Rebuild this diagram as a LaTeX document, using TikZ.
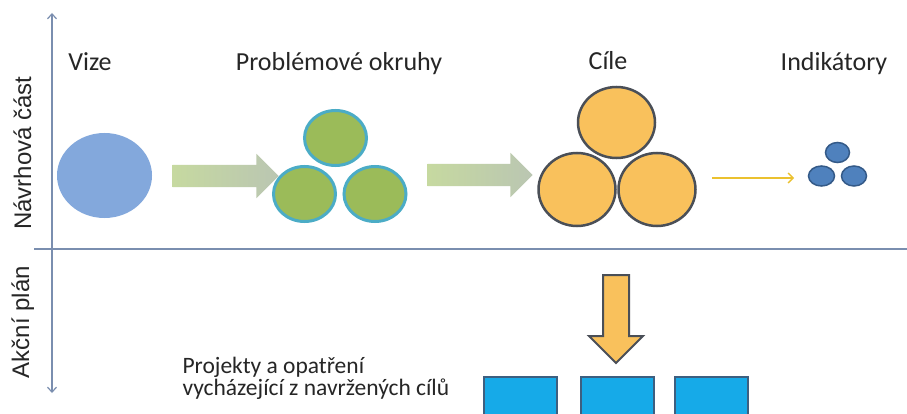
\documentclass[tikz,border=0pt]{standalone}
\usepackage{fontspec}
\setmainfont{Carlito}
\newfontfamily\axisfont{Liberation Sans}
\usepackage{tikz}
\usetikzlibrary{positioning, arrows.meta, shapes.geometric, shapes.arrows}
\definecolor{axis}{HTML}{7A8EAF}
\definecolor{txt}{HTML}{262626}
\definecolor{visionbg}{HTML}{83A8DC}
\definecolor{probbg}{HTML}{9BBB59}
\definecolor{probline}{HTML}{4BACC6}
\definecolor{goalbg}{HTML}{F9C15C}
\definecolor{goalline}{HTML}{4A4F57}
\definecolor{indbg}{HTML}{4F81BD}
\definecolor{indline}{HTML}{345A88}
\definecolor{flowbg}{HTML}{C6D9A0}
\definecolor{flowtip}{HTML}{BAC6B2}
\definecolor{thinarrow}{HTML}{EBC12F}
\definecolor{projbg}{HTML}{16AAE8}
\definecolor{projline}{HTML}{3D5F80}
\tikzset{
  top label/.style={
    anchor=base,
    text=txt,
    font=\fontsize{26}{30}\selectfont
  },
  side label/.style={
    anchor=base,
    rotate=90,
    text=txt,
    font=\axisfont\fontsize{24}{28}\selectfont
  },
  blob/.style={
    ellipse,
    inner sep=0pt
  },
  prob circle/.style={
    blob, draw=probline, line width=3pt, fill=probbg,
    minimum width=62pt, minimum height=55pt
  },
  goal circle/.style={
    blob, draw=goalline, line width=2.5pt, fill=goalbg,
    minimum width=77pt, minimum height=71pt
  },
  ind circle/.style={
    blob, draw=indline, line width=1.5pt, fill=indbg,
    minimum width=25pt, minimum height=20pt
  },
  flow arrow/.style={
    single arrow,
    left color=flowbg, middle color=flowbg, right color=flowtip,
    inner xsep=0pt, inner ysep=11pt,
    single arrow head extend=11pt,
    single arrow head indent=0pt,
    single arrow tip angle=90,
    minimum height=106pt
  },
  axis line/.style={
    {Straight Barb[length=5pt,width=9pt]}-{Straight Barb[length=5pt,width=9pt]},
    draw=axis, line width=1.2pt
  },
  project/.style={
    draw=projline, line width=2pt, fill=projbg,
    minimum width=73pt, minimum height=73pt,
    anchor=north, inner sep=0pt
  }
}

\begin{document}
\begin{tikzpicture}[x=1pt, y=-1pt]
  \useasboundingbox (0,0) rectangle (907,414);
  \fill[white] (0,0) rectangle (907,414);

  % axes
  \coordinate (axtop) at (52,13);
  \coordinate (axbot) at (52,393);
  \coordinate (hleft) at (34,249);
  \coordinate (hright) at (907,249);
  \draw[axis line] (axbot) -- (axtop);
  \draw[draw=axis, line width=1.2pt] (hleft) -- (hright);

  \node[side label] (navrh) at (31,153) {Návrhová část};
  \node[side label] (akcni) at (29,322) {Akční plán};

  % headings
  \node[top label] (vize) at (90,71) {Vize};
  \node[top label] (okruhy) at (339,71) {Problémové okruhy};
  \node[top label] (cile) at (608,70) {Cíle};
  \node[top label] (indik) at (834,71) {Indikátory};

  % vision
  \node[blob, fill=visionbg, minimum width=95pt, minimum height=85pt] (vision) at (104.5,175.5) {};

  % problem areas
  \node[prob circle] (probT) at (335.5,138) {};
  \node[prob circle] (probL) at (304.5,194) {};
  \node[prob circle] (probR) at (375,194) {};

  % goals
  \node[goal circle] (goalT) at (616.5,122.5) {};
  \node[goal circle, minimum height=73pt] (goalL) at (577,189.5) {};
  \node[goal circle, minimum height=73pt] (goalR) at (657,189.5) {};

  % indicators
  \node[ind circle, minimum width=24pt] (indT) at (837.5,152.5) {};
  \node[ind circle, minimum width=26pt] (indL) at (821.5,176) {};
  \node[ind circle] (indR) at (854,176) {};

  % flow
  \node[flow arrow] (flowA) at (220,176) {};
  \node[flow arrow, minimum height=105pt] (flowB) at (474.5,175) {};

  \coordinate (thinA) at (712,178);
  \coordinate (thinB) at (794,178);
  \draw[-{Straight Barb[length=5pt,width=10pt]}, draw=thinarrow, line width=1.3pt] (thinA) -- (thinB);

  \node[single arrow, rotate=-90, fill=goalbg, draw=goalline, line width=2pt,
        inner xsep=0pt, inner ysep=12pt, single arrow head extend=14pt,
        single arrow head indent=0pt, single arrow tip angle=90,
        minimum height=88pt] (down) at (616,312.5) {};

  % projects
  \node[project] (projA) at (520.5,376) {};
  \node[project] (projB) at (617.5,376) {};
  \node[project] (projC) at (711.5,376) {};

  \node[anchor=base west, align=left, text=txt, font=\fontsize{23.5}{22}\selectfont] (projtxt) at (179,395)
    {Projekty a opatření\\vycházející z navržených cílů};
\end{tikzpicture}
\end{document}
